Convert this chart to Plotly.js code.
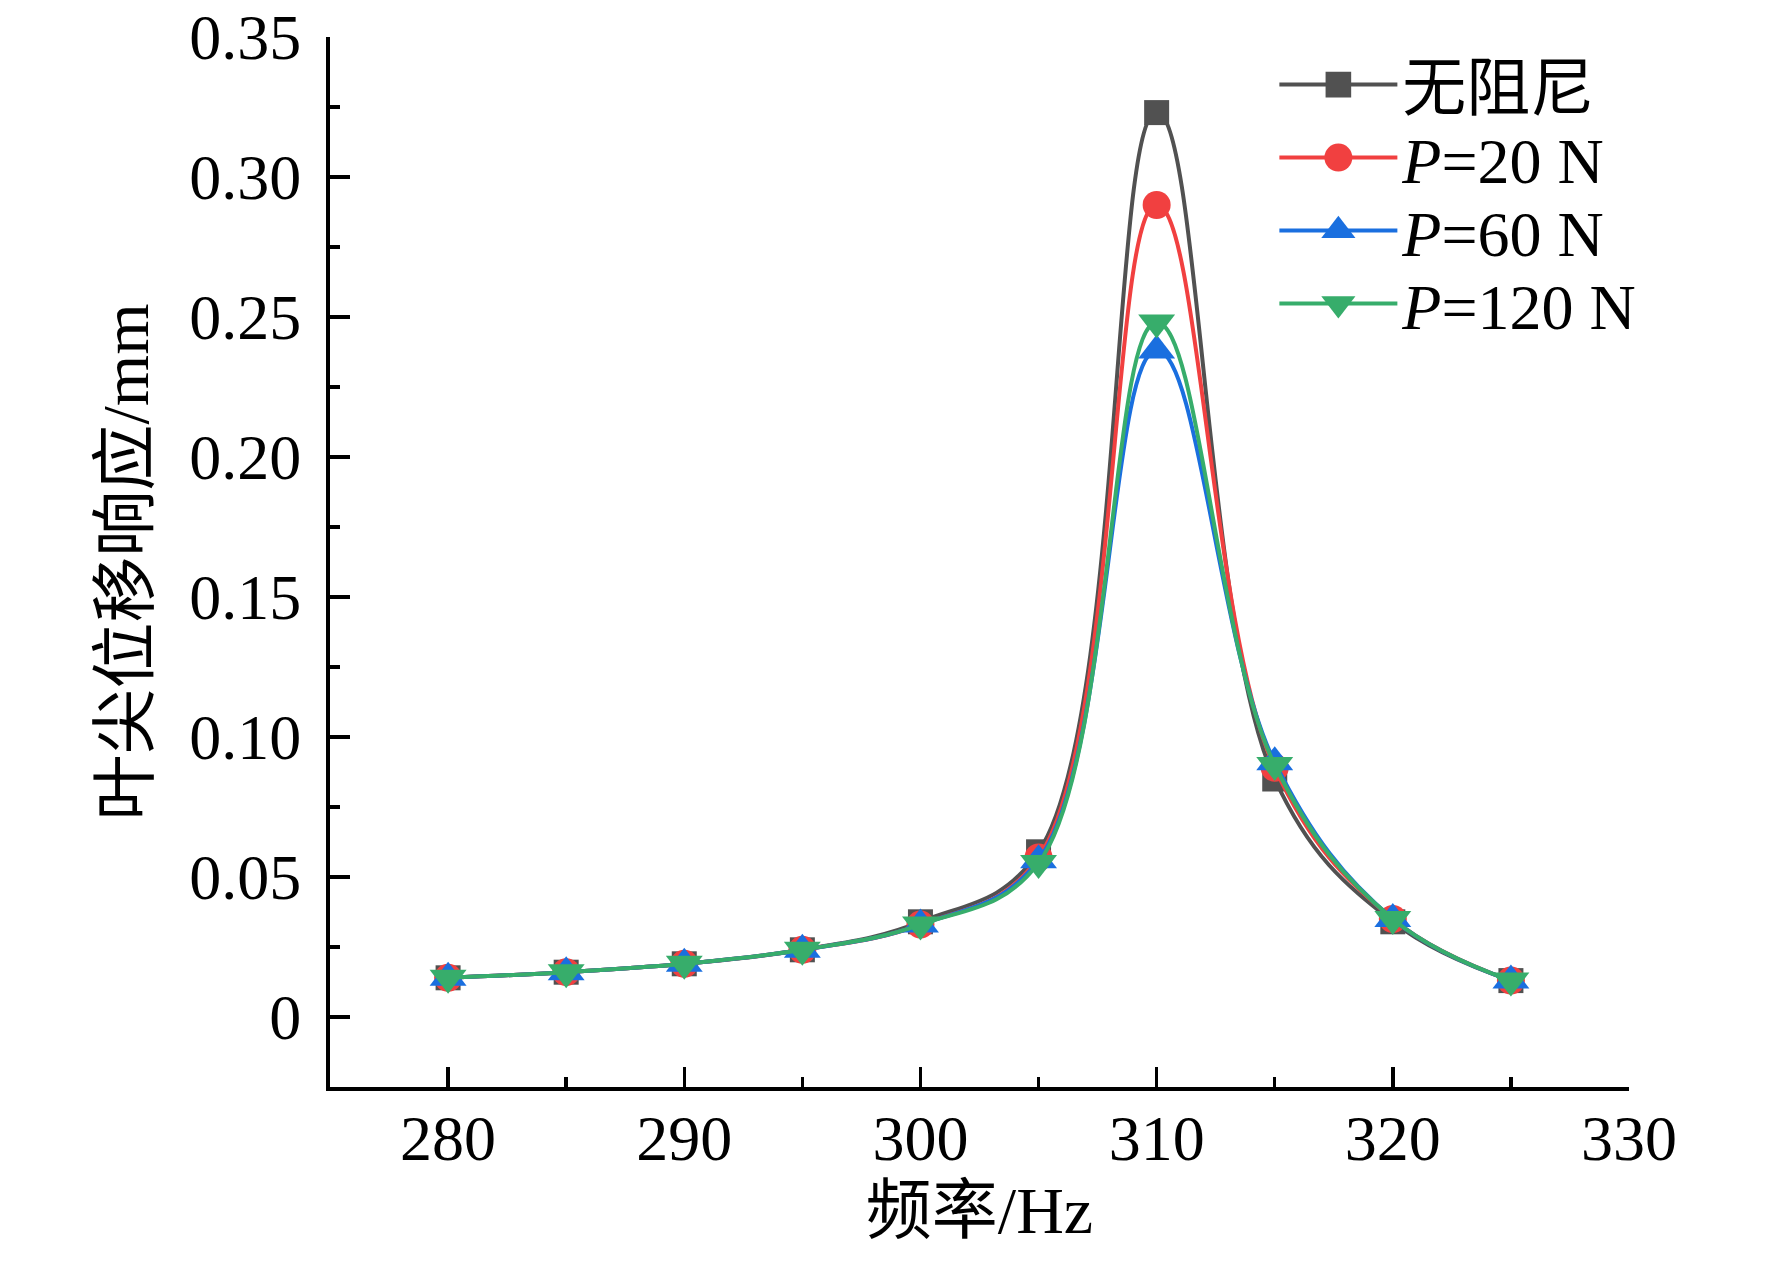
<!DOCTYPE html>
<html>
<head>
<meta charset="utf-8">
<script src="https://cdn.plot.ly/plotly-3.0.1.min.js"></script>
<style>html,body{margin:0;padding:0;background:#fff;}#chart{width:1772px;height:1261px;}</style>
</head>
<body>
<div id="chart"></div>
<script>
const freq = [280, 285, 290, 295, 300, 305, 310, 315, 320, 325];
const noDamping = [0.014, 0.016, 0.019, 0.024, 0.034, 0.059, 0.323, 0.085, 0.034, 0.013];
const p20 = [0.014, 0.016, 0.019, 0.024, 0.033, 0.057, 0.290, 0.089, 0.035, 0.013];
const p60 = [0.014, 0.016, 0.019, 0.024, 0.033, 0.056, 0.238, 0.091, 0.035, 0.013];
const p120 = [0.014, 0.016, 0.019, 0.024, 0.033, 0.055, 0.248, 0.090, 0.035, 0.013];
const seriesNames = ['无阻尼', '<i>P</i>=20 N', '<i>P</i>=60 N', '<i>P</i>=120 N'];
const xTickVals = [280, 290, 300, 310, 320, 330];
const yTickVals = [0, 0.05, 0.10, 0.15, 0.20, 0.25, 0.30, 0.35];
const yTickText = ['0', '0.05', '0.10', '0.15', '0.20', '0.25', '0.30', '0.35'];

const FONT = '"Liberation Serif", "Times New Roman", "Noto Sans CJK SC", serif';
const colors = ['#515151', '#F14040', '#1A6FDF', '#37AD6B'];
const symbols = ['square', 'circle', 'triangle-up', 'triangle-down'];
const sizes = [25, 28, 32, 32];
const legendScale = [1.6, 1.75, 1.85, 1.85];
const data = [noDamping, p20, p60, p120];
const legends = ['legend', 'legend2', 'legend3', 'legend4'];

const traces = data.map((ys, i) => ({
  x: freq, y: ys, name: seriesNames[i], type: 'scatter', mode: 'lines+markers',
  line: {shape: 'spline', smoothing: 1.1, color: colors[i], width: 4},
  marker: {symbol: symbols[i], size: sizes[i], color: colors[i]},
  legend: legends[i]
}));

const plotTop = 37, plotBottom = 1087;
const rowY = [85, 158, 231, 304];
const legendCommon = {
  x: 0.727, xanchor: 'left', yanchor: 'middle', bgcolor: 'rgba(0,0,0,0)',
  borderwidth: 0, itemwidth: 118,
  font: {family: FONT, size: 64, color: '#000'}
};
const layout = {
  width: 1772, height: 1261,
  margin: {l: 330, r: 143, t: plotTop, b: 1261 - plotBottom},
  paper_bgcolor: '#fff', plot_bgcolor: '#fff',
  font: {family: FONT, size: 64, color: '#000'},
  showlegend: true,
  xaxis: {
    range: [275, 330], tickvals: xTickVals, ticks: 'inside', ticklen: 20, tickwidth: 3.5,
    tickcolor: '#000', showline: true, linecolor: '#000', linewidth: 4, showgrid: false,
    zeroline: false, mirror: false, ticklabelstandoff: -8,
    minor: {dtick: 5, tick0: 275, ticks: 'inside', ticklen: 10, tickwidth: 3.5, tickcolor: '#000', showgrid: false},
    tickfont: {family: FONT, size: 64, color: '#000'},
    title: {text: '频率/Hz', font: {family: FONT, size: 66, color: '#000'}, standoff: 13}
  },
  yaxis: {
    range: [-0.025, 0.35], tickvals: yTickVals, ticktext: yTickText, ticks: 'inside', ticklen: 20,
    tickwidth: 3.5, tickcolor: '#000', showline: true, linecolor: '#000', linewidth: 4, showgrid: false,
    zeroline: false, mirror: false, ticklabelstandoff: 12,
    minor: {dtick: 0.025, tick0: 0, ticks: 'inside', ticklen: 10, tickwidth: 3.5, tickcolor: '#000', showgrid: false},
    tickfont: {family: FONT, size: 64, color: '#000'},
    title: {text: '叶尖位移响应/mm', font: {family: FONT, size: 66, color: '#000'}, standoff: 20}
  }
};
legends.forEach((lg, i) => {
  layout[lg] = Object.assign({}, legendCommon, {y: (plotBottom - rowY[i]) / (plotBottom - plotTop)});
});
Plotly.newPlot('chart', traces, layout, {displayModeBar: false, staticPlot: true}).then(() => {
  legends.forEach((lg, i) => {
    document.querySelectorAll('g.' + lg + ' .legendpoints path.scatterpts').forEach(p => {
      const t = p.getAttribute('transform') || '';
      p.setAttribute('transform', t + ' scale(' + legendScale[i] + ')');
    });
  });
});
</script>
</body>
</html>
